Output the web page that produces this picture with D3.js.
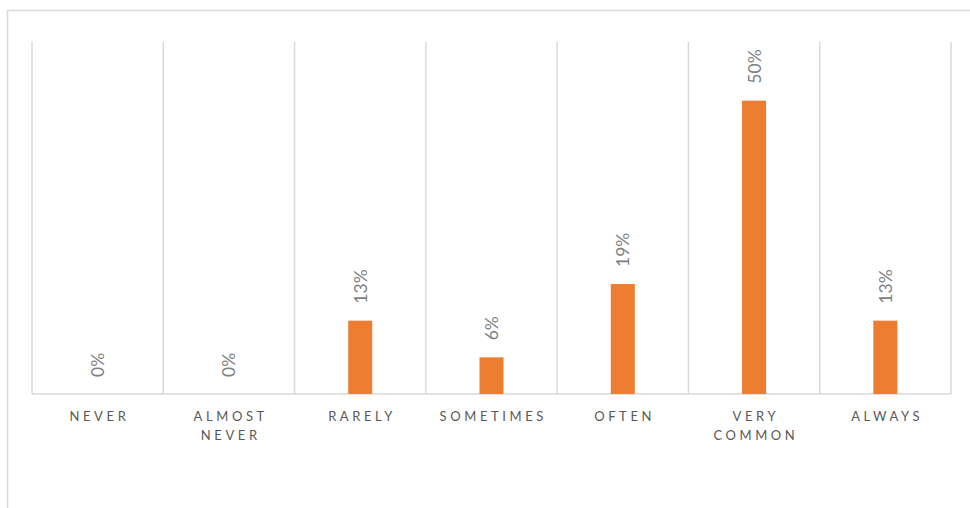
<!DOCTYPE html>
<html><head><meta charset="utf-8">
<script src="https://cdn.jsdelivr.net/npm/d3@7"></script>
<style>body{margin:0;background:#fff}</style>
</head><body>
<svg id="c" width="970" height="508"></svg>
<script>
const categories = ["NEVER","ALMOST NEVER","RARELY","SOMETIMES","OFTEN","VERY COMMON","ALWAYS"];
const values = [0, 0, 0.125, 0.0625, 0.1875, 0.5, 0.125];
const labels = ["0%","0%","13%","6%","19%","50%","13%"];

const svg = d3.select("#c");
const m = {l:32, r:951, t:42, b:394};
const x = d3.scaleBand().domain(categories).range([m.l, m.r]).padding(0);
const y = d3.scaleLinear().domain([0, 0.6]).range([m.b, m.t]);

// outer border
svg.append("rect").attr("x",7.5).attr("y",10.5).attr("width",1000).attr("height",600)
  .attr("fill","none").attr("stroke","#d9d9d9").attr("stroke-width",1.5);

// vertical gridlines at band edges
const edges = categories.map(c=>x(c)).concat([m.r]);
svg.append("g").selectAll("line").data(edges).join("line")
  .attr("x1",d=>d).attr("x2",d=>d).attr("y1",y(0.6)).attr("y2",y(0))
  .attr("stroke","#d9d9d9").attr("stroke-width",1.5);

// baseline
svg.append("line").attr("x1",m.l).attr("x2",m.r).attr("y1",y(0)).attr("y2",y(0))
  .attr("stroke","#d9d9d9").attr("stroke-width",1.5);

const bw = x.bandwidth()*0.183;
svg.append("g").selectAll("rect").data(values).join("rect")
  .attr("x",(d,i)=>x(categories[i])+x.bandwidth()/2-bw/2)
  .attr("width",bw)
  .attr("y",d=>y(d))
  .attr("height",d=>y(0)-y(d))
  .attr("fill","#ed7d31");

// data labels rotated
svg.append("g").selectAll("text").data(values).join("text")
  .attr("transform",(d,i)=>`translate(${x(categories[i])+x.bandwidth()/2+6.5},${y(d)-17}) rotate(-90)`)
  .attr("font-family","Lato, 'Open Sans', sans-serif")
  .attr("font-size",17.5)
  .attr("fill","#7f7f7f")
  .text((d,i)=>labels[i]);

// category labels
const ls = 3.6;
const cl = svg.append("g").selectAll("text").data(categories).join("text")
  .attr("x",d=>x(d)+x.bandwidth()/2+ls/2)
  .attr("y",421)
  .attr("text-anchor","middle")
  .attr("font-family","Lato, 'Open Sans', sans-serif")
  .attr("font-size",13)
  .attr("letter-spacing",ls)
  .attr("fill","#595959");
cl.each(function(d){
  const parts = d.split(" ");
  const t = d3.select(this);
  parts.forEach((p,i)=>{
    t.append("tspan").attr("x",x(d)+x.bandwidth()/2+ls/2).attr("dy",i===0?0:19).text(p);
  });
});
</script>
</body></html>
